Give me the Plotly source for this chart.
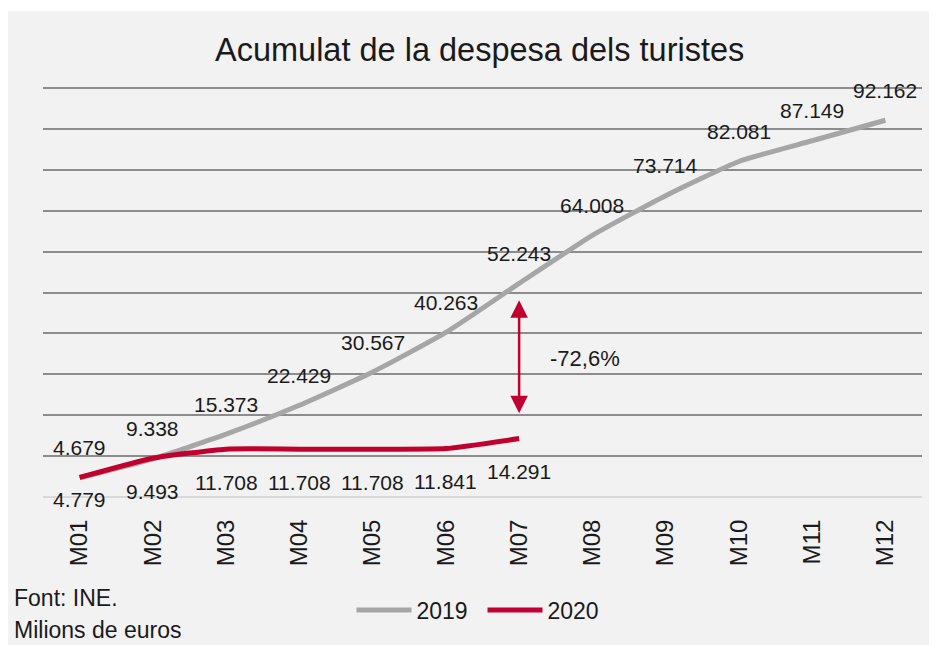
import plotly.graph_objects as go

months = ["M01", "M02", "M03", "M04", "M05", "M06", "M07", "M08", "M09", "M10", "M11", "M12"]
values_2019 = [4679, 9338, 15373, 22429, 30567, 40263, 52243, 64008, 73714, 82081, 87149, 92162]
months_2020 = ["M01", "M02", "M03", "M04", "M05", "M06", "M07"]
values_2020 = [4779, 9493, 11708, 11708, 11708, 11841, 14291]
y_ticks = [0, 10000, 20000, 30000, 40000, 50000, 60000, 70000, 80000, 90000, 100000]
change_label = "-72,6%"
arrow_top = 48500
arrow_bottom = 20500
change_label_y = 34000

GRAY = "#A6A6A6"
RED = "#C0002F"
TXT = "#1a1a1a"
FONT = "Liberation Sans"


def fmt(v):
    return f"{v:,}".replace(",", ".")


fig = go.Figure()
fig.add_trace(go.Scatter(x=months, y=values_2019, mode="lines", name="2019",
                         line=dict(color=GRAY, width=5, shape="spline", smoothing=0.5)))
fig.add_trace(go.Scatter(x=months_2020, y=values_2020, mode="lines", name="2020",
                         line=dict(color=RED, width=5, shape="spline", smoothing=0.5)))

ann = []
for m, v in zip(months, values_2019):
    ann.append(dict(x=m, y=v, text=fmt(v), showarrow=False, yshift=30,
                    font=dict(size=21, color=TXT, family=FONT)))
for i, (m, v) in enumerate(zip(months_2020, values_2020)):
    ann.append(dict(x=m, y=v, text=fmt(v), showarrow=False, yshift=-22 if i == 0 else -33,
                    font=dict(size=21, color=TXT, family=FONT)))

# double-headed arrow at M07
ann.append(dict(x="M07", y=arrow_bottom, ax="M07", ay=arrow_top, axref="x", ayref="y",
                xref="x", yref="y", text="", showarrow=True, arrowhead=2, startarrowhead=2,
                arrowside="end+start", arrowsize=1.4, startarrowsize=1.4, arrowwidth=2.5,
                arrowcolor=RED))
ann.append(dict(x=6.9, y=change_label_y, xref="x", yref="y", text=change_label, showarrow=False,
                font=dict(size=22, color=TXT, family=FONT)))

# title and notes
ann.append(dict(x=0.497, y=1.09, xref="paper", yref="paper", text="Acumulat de la despesa dels turistes",
                showarrow=False, xanchor="center", yanchor="middle",
                font=dict(size=32.5, color=TXT, family=FONT)))
ann.append(dict(x=-0.0355, y=-0.246, xref="paper", yref="paper", text="Font: INE.",
                showarrow=False, xanchor="left", yanchor="middle",
                font=dict(size=23, color=TXT, family=FONT)))
ann.append(dict(x=-0.0355, y=-0.324, xref="paper", yref="paper", text="Milions de euros",
                showarrow=False, xanchor="left", yanchor="middle",
                font=dict(size=23, color=TXT, family=FONT)))

fig.update_layout(
    width=929, height=637,
    margin=dict(l=35, r=15, t=79, b=148),
    paper_bgcolor="white",
    plot_bgcolor="rgba(0,0,0,0)",
    font=dict(family=FONT, color=TXT),
    annotations=ann,
    showlegend=True,
    legend=dict(orientation="h", x=0.5, xanchor="center", y=-0.276, yanchor="middle",
                font=dict(size=23, color=TXT, family=FONT), bgcolor="rgba(0,0,0,0)",
                itemwidth=55, entrywidth=61),
    shapes=[dict(type="rect", xref="paper", yref="paper", x0=-0.06, x1=1.05, y0=-0.4, y1=1.185,
                 fillcolor="#F2F2F2", line=dict(width=0), layer="below")],
)
fig.update_xaxes(type="category", categoryorder="array", categoryarray=months,
                 range=[-0.5, 11.5], showgrid=False, showline=False, zeroline=False,
                 tickangle=-90, ticks="outside", ticklen=12, tickcolor="rgba(0,0,0,0)",
                 tickfont=dict(size=24, color=TXT, family=FONT))
fig.update_yaxes(range=[0, 100300], tickvals=y_ticks, showticklabels=False, showgrid=True,
                 gridcolor="#8C8C8C", gridwidth=1.5, zeroline=True, zerolinecolor="#D9D9D9",
                 zerolinewidth=2, ticks="")

fig.write_html("out.html")
